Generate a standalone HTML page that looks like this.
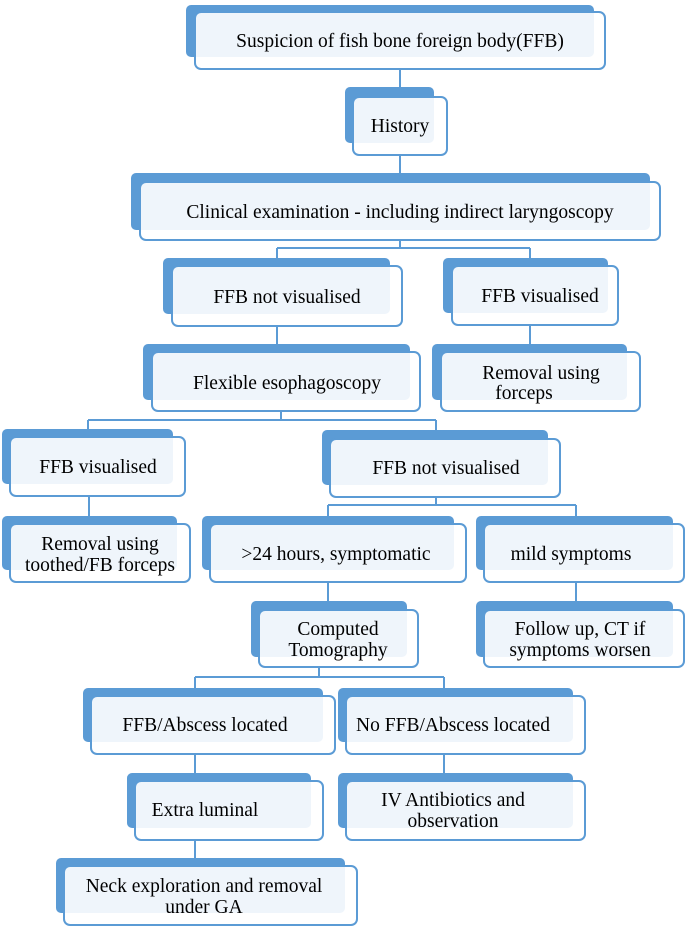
<!DOCTYPE html>
<html><head><meta charset="utf-8"><style>
html,body{margin:0;padding:0;background:#fff;}
svg{display:block;}
svg text{font-family:"Liberation Serif","Times New Roman",serif;font-size:19.5px;fill:#000;text-anchor:middle;}
.b{fill:#5b9bd5;}
.f{fill:rgba(255,255,255,0.9);stroke:#5b9bd5;stroke-width:2;}
.l{stroke:#5b9bd5;stroke-width:2;fill:none;}
</style></head><body>
<svg width="685" height="926" viewBox="0 0 685 926" font-family="Liberation Serif, serif">
<path class="l" d="M400 69V97M400 155V182M400 240V248M277 248H530M277 248V258M530 248V258
M277 326V344M530 325V344
M281 411V420M88 420H436M88 420V429M436 420V430
M89 496V516
M436 497V505M328 505H576M328 505V516M576 505V516
M328 582V601M576 582V601
M319 667V677M195 677H444M195 677V688M444 677V688
M195 754V773M444 754V773M195 840V858"/>
<g>
<rect class="b" x="186" y="5" width="408" height="52" rx="5"/><rect class="f" x="195" y="12" width="410" height="57" rx="6"/>
<text x="400" y="47">Suspicion of fish bone foreign body(FFB)</text>

<rect class="b" x="345" y="87" width="89" height="56" rx="5"/><rect class="f" x="353" y="97" width="94" height="58" rx="6"/>
<text x="400" y="132">History</text>

<rect class="b" x="131" y="173" width="519" height="57" rx="5"/><rect class="f" x="140" y="182" width="520" height="58" rx="6"/>
<text x="400" y="218">Clinical examination - including indirect laryngoscopy</text>

<rect class="b" x="163" y="258" width="227" height="56" rx="5"/><rect class="f" x="172" y="266" width="230" height="60" rx="6"/>
<text x="287" y="303">FFB not visualised</text>

<rect class="b" x="443" y="258" width="165" height="55" rx="5"/><rect class="f" x="452" y="266" width="166" height="59" rx="6"/>
<text x="540" y="302">FFB visualised</text>

<rect class="b" x="143" y="344" width="267" height="56" rx="5"/><rect class="f" x="152" y="352" width="268" height="59" rx="6"/>
<text x="287" y="389">Flexible esophagoscopy</text>

<rect class="b" x="432" y="344" width="195" height="56" rx="5"/><rect class="f" x="441" y="352" width="199" height="59" rx="6"/>
<text x="541" y="379">Removal using</text><text x="524" y="399">forceps</text>

<rect class="b" x="2" y="429" width="171" height="55" rx="5"/><rect class="f" x="10" y="437" width="175" height="59" rx="6"/>
<text x="98" y="473">FFB visualised</text>

<rect class="b" x="322" y="430" width="226" height="55" rx="5"/><rect class="f" x="330" y="439" width="230" height="58" rx="6"/>
<text x="446" y="474">FFB not visualised</text>

<rect class="b" x="2" y="516" width="175" height="54" rx="5"/><rect class="f" x="10" y="524" width="180" height="58" rx="6"/>
<text x="100" y="550">Removal using</text><text x="100" y="571">toothed/FB forceps</text>

<rect class="b" x="202" y="516" width="252" height="54" rx="5"/><rect class="f" x="210" y="524" width="256" height="58" rx="6"/>
<text x="336" y="560">&gt;24 hours, symptomatic</text>

<rect class="b" x="476" y="516" width="197" height="54" rx="5"/><rect class="f" x="484" y="524" width="200" height="58" rx="6"/>
<text x="571" y="560">mild symptoms</text>

<rect class="b" x="251" y="601" width="156" height="56" rx="5"/><rect class="f" x="259" y="610" width="159" height="57" rx="6"/>
<text x="338" y="635">Computed</text><text x="338" y="656">Tomography</text>

<rect class="b" x="476" y="601" width="197" height="56" rx="5"/><rect class="f" x="484" y="610" width="200" height="57" rx="6"/>
<text x="580" y="635">Follow up, CT if</text><text x="580" y="656">symptoms worsen</text>

<rect class="b" x="83" y="688" width="240" height="54" rx="5"/><rect class="f" x="91" y="696" width="244" height="58" rx="6"/>
<text x="205" y="731">FFB/Abscess located</text>

<rect class="b" x="338" y="688" width="235" height="54" rx="5"/><rect class="f" x="346" y="696" width="239" height="58" rx="6"/>
<text x="453" y="731">No FFB/Abscess located</text>

<rect class="b" x="127" y="773" width="184" height="55" rx="5"/><rect class="f" x="135" y="781" width="188" height="59" rx="6"/>
<text x="205" y="816">Extra luminal</text>

<rect class="b" x="338" y="773" width="235" height="55" rx="5"/><rect class="f" x="346" y="781" width="239" height="59" rx="6"/>
<text x="453" y="806">IV Antibiotics and</text><text x="453" y="827">observation</text>

<rect class="b" x="56" y="858" width="289" height="55" rx="5"/><rect class="f" x="64" y="866" width="293" height="59" rx="6"/>
<text x="204" y="892">Neck exploration and removal</text><text x="204" y="913">under GA</text>
</g>
</svg>
</body></html>
